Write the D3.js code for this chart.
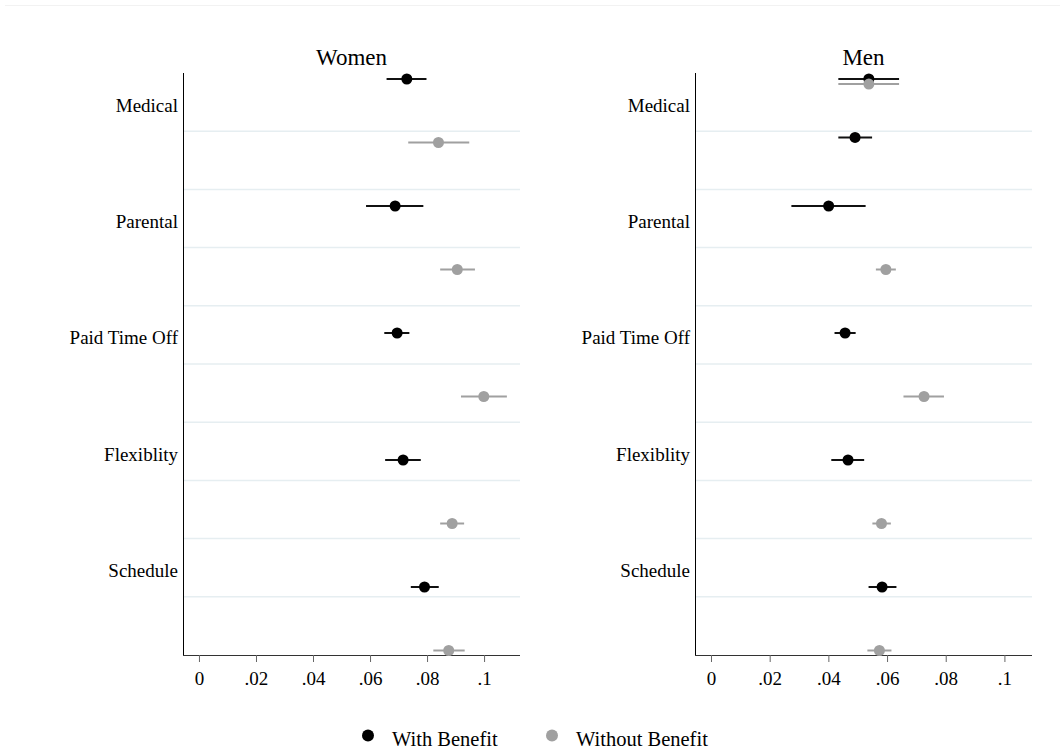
<!DOCTYPE html>
<html>
<head>
<meta charset="utf-8">
<script src="https://cdn.jsdelivr.net/npm/d3@7"></script>
<style>
  body { margin: 0; background: #fff; }
  svg { display: block; font-family: "Liberation Serif", "Times New Roman", serif; }
</style>
</head>
<body>
<svg id="chart" width="1060" height="752"></svg>
<script>
/*
Data
*/

const categories = ["Medical", "Parental", "Paid Time Off", "Flexiblity", "Schedule"];
const xTicks = [0, .02, .04, .06, .08, .1];

// Women
const womenWithRow   = [0, 2, 4, 6, 8];
const womenWithEst   = [0.0729, 0.0688, 0.0695, 0.0716, 0.0791];
const womenWithLo    = [0.0658, 0.0586, 0.0650, 0.0653, 0.0743];
const womenWithHi    = [0.0798, 0.0787, 0.0738, 0.0778, 0.0841];
const womenWithoutRow = [1, 3, 5, 7, 9];
const womenWithoutEst = [0.0840, 0.0906, 0.0999, 0.0888, 0.0876];
const womenWithoutLo  = [0.0734, 0.0846, 0.0919, 0.0846, 0.0822];
const womenWithoutHi  = [0.0948, 0.0968, 0.1080, 0.0930, 0.0932];

// Men
const menWithRow   = [0, 0.92, 2, 4, 6, 8];
const menWithEst   = [0.0538, 0.0491, 0.0401, 0.0457, 0.0467, 0.0583];
const menWithLo    = [0.0434, 0.0434, 0.0274, 0.0421, 0.0410, 0.0537];
const menWithHi    = [0.0641, 0.0549, 0.0527, 0.0493, 0.0522, 0.0632];
const menWithoutRow = [0.08, 3, 5, 7, 9];
const menWithoutEst = [0.0538, 0.0596, 0.0726, 0.0581, 0.0574];
const menWithoutLo  = [0.0434, 0.0562, 0.0656, 0.0550, 0.0533];
const menWithoutHi  = [0.0641, 0.0630, 0.0794, 0.0613, 0.0615];

/*
Helpers
*/

const colWith = "#000000", colWithout = "#a0a0a0";

function series(rows, est, lo, hi) {
  return rows.map((r, i) => ({ row: r, est: est[i], lo: lo[i], hi: hi[i] }));
}

const fmt = d => d === 0 ? "0" : d3.format(".2~f")(d).replace(/^0/, "");

const svg = d3.select("#chart");

// faint frame line at the top
svg.append("line")
  .attr("x1", 5).attr("x2", 1060).attr("y1", 5.5).attr("y2", 5.5)
  .attr("stroke", "#f2f2f2").attr("stroke-width", 1);

function drawPanel(cfg) {
  const top = 73, bottom = 655;
  const left = cfg.left, right = cfg.left + 337;

  const x = d3.scaleLinear().domain(cfg.xDomain).range([left, right]);
  // gridlines / label slots
  const band = d3.scaleBand().domain(d3.range(10)).range([top, bottom]).padding(0);
  // marker rows
  const y = d3.scaleLinear().domain([0, 9]).range([79, 650.5]);

  const g = svg.append("g");

  // gridlines between slots
  g.append("g").selectAll("line")
    .data(d3.range(1, 10))
    .join("line")
    .attr("x1", left + 1).attr("x2", right)
    .attr("y1", d => band(d)).attr("y2", d => band(d))
    .attr("stroke", "#e6eef1").attr("stroke-width", 1.5);

  // title
  g.append("text")
    .attr("x", (left + right) / 2).attr("y", 65)
    .attr("text-anchor", "middle")
    .attr("font-size", 23)
    .text(cfg.title);

  // y labels
  g.append("g").selectAll("text")
    .data(categories)
    .join("text")
    .attr("x", left - 5)
    .attr("y", (d, i) => band(i * 2) + band.bandwidth() / 2 + 9.5)
    .attr("text-anchor", "end")
    .attr("font-size", 19)
    .text(d => d);

  // x axis
  const xAxis = g.append("g")
    .attr("transform", `translate(0,${bottom})`)
    .call(d3.axisBottom(x).tickValues(xTicks).tickFormat(fmt).tickSize(7).tickPadding(10).tickSizeOuter(0));
  xAxis.select(".domain").attr("stroke", "#333").attr("d", `M${left},0.5H${right}`);
  xAxis.selectAll(".tick line").attr("stroke", "#666");
  xAxis.selectAll(".tick text")
    .attr("fill", "#000")
    .attr("font-size", 19)
    .attr("font-family", "Liberation Serif, Times New Roman, serif");

  // y axis line
  g.append("line")
    .attr("x1", left + 0.5).attr("x2", left + 0.5)
    .attr("y1", top).attr("y2", bottom)
    .attr("stroke", "#000").attr("stroke-width", 1);

  // series: with benefit first, without on top
  [[cfg.withData, colWith, "#111"], [cfg.withoutData, colWithout, colWithout]].forEach(([data, fill, stroke]) => {
    const s = g.append("g");
    s.selectAll("line")
      .data(data)
      .join("line")
      .attr("x1", d => x(d.lo)).attr("x2", d => x(d.hi))
      .attr("y1", d => y(d.row)).attr("y2", d => y(d.row))
      .attr("stroke", stroke).attr("stroke-width", 2);
    s.selectAll("circle")
      .data(data)
      .join("circle")
      .attr("cx", d => x(d.est)).attr("cy", d => y(d.row))
      .attr("r", 5.5)
      .attr("fill", fill);
  });
}

drawPanel({
  title: "Women",
  left: 183,
  xDomain: [-0.0056, 0.1126],
  withData: series(womenWithRow, womenWithEst, womenWithLo, womenWithHi),
  withoutData: series(womenWithoutRow, womenWithoutEst, womenWithoutLo, womenWithoutHi)
});

drawPanel({
  title: "Men",
  left: 695,
  xDomain: [-0.00545, 0.1094],
  withData: series(menWithRow, menWithEst, menWithLo, menWithHi),
  withoutData: series(menWithoutRow, menWithoutEst, menWithoutLo, menWithoutHi)
});

/*
Legend
*/

const legendItems = [
  { label: "With Benefit", color: colWith, x: 368 },
  { label: "Without Benefit", color: colWithout, x: 552 }
];

const legend = svg.append("g").selectAll("g")
  .data(legendItems)
  .join("g")
  .attr("transform", d => `translate(${d.x},735.5)`);

legend.append("circle").attr("r", 6).attr("fill", d => d.color);
legend.append("text")
  .attr("x", 24).attr("y", 10.5)
  .attr("font-size", 20.5)
  .text(d => d.label);
</script>
</body>
</html>
